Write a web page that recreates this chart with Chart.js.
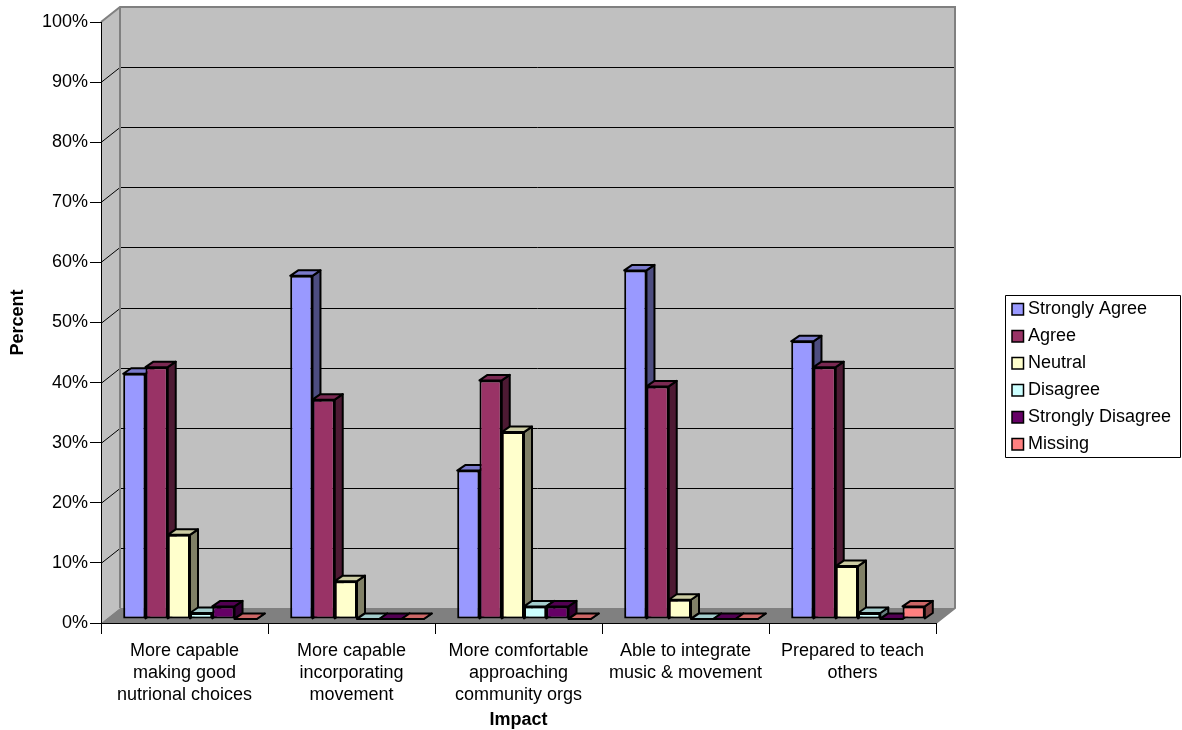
<!DOCTYPE html>
<html>
<head>
  <title>Impact</title>
  <script src="https://cdn.jsdelivr.net/npm/chart.js"></script>
  <style>
    body { margin: 0; background: #fff; }
    canvas { display: block; }
  </style>
</head>
<body>
  <canvas id="impactChart" width="1182" height="730"></canvas>

  <script>
    const categories = [
      ['More capable', 'making good', 'nutrional choices'],
      ['More capable', 'incorporating', 'movement'],
      ['More comfortable', 'approaching', 'community orgs'],
      ['Able to integrate', 'music & movement'],
      ['Prepared to teach', 'others']
    ];
    const seriesNames = ['Strongly Agree', 'Agree', 'Neutral', 'Disagree', 'Strongly Disagree', 'Missing'];
    const stronglyAgree = [40.8, 57.1, 24.7, 58, 46.2];
    const agree = [41.9, 36.5, 39.7, 38.7, 41.9];
    const neutral = [14, 6.3, 31.1, 3.2, 8.8];
    const disagree = [1, 0, 2.1, 0, 1];
    const stronglyDisagree = [2.1, 0, 2.1, 0, 0];
    const missing = [0, 0, 0, 0, 2.1];
    const seriesColors = ['#9999FF', '#993366', '#FFFFCC', '#CCFFFF', '#660066', '#FF8080'];

    const font = 'Liberation Sans, Arial, sans-serif';
    const wallDx = 19, wallDy = -15;   // depth of the chart box
    const barDx = 8, barDy = -5.5;     // depth of each column
    const barShiftX = 5.5, barShiftY = -4;

    function shade(hex, f) {
      const n = parseInt(hex.slice(1), 16);
      const c = [n >> 16, (n >> 8) & 255, n & 255].map(v => Math.round(v * f));
      return `rgb(${c[0]},${c[1]},${c[2]})`;
    }

    function poly(ctx, pts, fill, stroke, width) {
      ctx.beginPath();
      pts.forEach((p, i) => i ? ctx.lineTo(p[0], p[1]) : ctx.moveTo(p[0], p[1]));
      ctx.closePath();
      if (fill) { ctx.fillStyle = fill; ctx.fill(); }
      if (stroke) { ctx.strokeStyle = stroke; ctx.lineWidth = width; ctx.stroke(); }
    }

    // back wall, side wall, floor and the gridlines running round them
    const box3d = {
      id: 'box3d',
      beforeDraw(chart) {
        const { ctx, chartArea: a, scales: { y } } = chart;
        const bx = a.left + wallDx, tx = a.right + wallDx;
        ctx.save();
        poly(ctx, [[bx, a.top + wallDy], [tx, a.top + wallDy], [tx, a.bottom + wallDy], [bx, a.bottom + wallDy]], '#C0C0C0');
        poly(ctx, [[a.left, a.top], [bx, a.top + wallDy], [bx, a.bottom + wallDy], [a.left, a.bottom]], '#C0C0C0');
        poly(ctx, [[a.left, a.bottom], [bx, a.bottom + wallDy], [tx, a.bottom + wallDy], [a.right, a.bottom]], '#808080');

        y.ticks.forEach(t => {
          const py = Math.round(y.getPixelForValue(t.value)) + 0.5;
          if (t.value === 0 || t.value === 100) return;
          ctx.strokeStyle = '#000';
          ctx.lineWidth = 1;
          ctx.beginPath();
          ctx.moveTo(a.left, py);
          ctx.lineTo(bx, py + wallDy);
          ctx.lineTo(tx, py + wallDy);
          ctx.stroke();
        });

        // wall outline
        ctx.strokeStyle = '#808080';
        ctx.lineWidth = 2;
        ctx.beginPath();
        ctx.moveTo(a.left, a.top);
        ctx.lineTo(bx, a.top + wallDy);
        ctx.lineTo(tx, a.top + wallDy);
        ctx.lineTo(tx, a.bottom + wallDy);
        ctx.lineTo(a.right, a.bottom);
        ctx.moveTo(bx, a.top + wallDy);
        ctx.lineTo(bx, a.bottom + wallDy);
        ctx.stroke();
        ctx.restore();
      },
      // columns go left to right so each front face covers its neighbour's side
      beforeDatasetsDraw(chart) {
        const { ctx, data } = chart;
        ctx.save();
        ctx.translate(barShiftX, barShiftY);
        ctx.lineJoin = 'round';
        data.datasets.forEach((ds, i) => {
          chart.getDatasetMeta(i).data.forEach(bar => {
            const { x, y, base, width } = bar.getProps(['x', 'y', 'base', 'width']);
            const l = x - width / 2, r = x + width / 2;
            poly(ctx, [[r, y], [r + barDx, y + barDy], [r + barDx, base + barDy], [r, base]], shade(ds.backgroundColor, 0.5), '#000', 2);
            poly(ctx, [[l, y], [l + barDx, y + barDy], [r + barDx, y + barDy], [r, y]], shade(ds.backgroundColor, 0.8), '#000', 2);
            bar.draw(ctx);
          });
        });
        ctx.restore();
        return false;
      },
      afterDraw(chart) {
        const { ctx, data } = chart;
        ctx.save();
        poly(ctx, [[1005.5, 295.5], [1180.5, 295.5], [1180.5, 457.5], [1005.5, 457.5]], '#fff', '#000', 1);
        ctx.font = `18px ${font}`;
        ctx.textBaseline = 'middle';
        data.datasets.forEach((ds, i) => {
          const cy = 309.5 + i * 27;
          poly(ctx, [[1012, cy - 6], [1023.5, cy - 6], [1023.5, cy + 5.5], [1012, cy + 5.5]], ds.backgroundColor, '#000', 1.5);
          ctx.fillStyle = '#000';
          ctx.fillText(ds.label, 1028, cy);
        });
        ctx.restore();
      }
    };

    const seriesValues = [stronglyAgree, agree, neutral, disagree, stronglyDisagree, missing];

    new Chart(document.getElementById('impactChart').getContext('2d'), {
      type: 'bar',
      data: {
        labels: categories,
        datasets: seriesNames.map((name, i) => ({
          label: name,
          data: seriesValues[i],
          backgroundColor: seriesColors[i],
          borderColor: '#000',
          borderWidth: 2,
          borderSkipped: false,
          barPercentage: 1,
          categoryPercentage: 0.8
        }))
      },
      options: {
        responsive: false,
        animation: false,
        layout: { padding: { top: 22, right: 246 } },
        plugins: { legend: { display: false }, tooltip: { enabled: false } },
        scales: {
          x: {
            afterFit: s => { s.height = 107; },
            border: { color: '#000', width: 1 },
            grid: { drawOnChartArea: false, tickLength: 11, color: '#000' },
            ticks: {
              color: '#000', autoSkip: false, maxRotation: 0, padding: 6,
              font: { family: font, size: 18, lineHeight: 1.22 }
            },
            title: {
              display: true, text: 'Impact', color: '#000',
              font: { family: font, size: 18, weight: 'bold' },
              padding: { top: 0, bottom: -1 }
            }
          },
          y: {
            min: 0,
            max: 100,
            afterFit: s => { s.width = 101; },
            border: { color: '#000', width: 1 },
            grid: { drawOnChartArea: false, tickLength: 11, color: '#000' },
            ticks: {
              color: '#000', stepSize: 10, padding: 2,
              font: { family: font, size: 18 },
              callback: v => v + '%'
            },
            title: {
              display: true, text: 'Percent', color: '#000',
              font: { family: font, size: 18, weight: 'bold' },
              padding: { top: 7, bottom: 0 }
            }
          }
        }
      },
      plugins: [box3d]
    });
  </script>
</body>
</html>
